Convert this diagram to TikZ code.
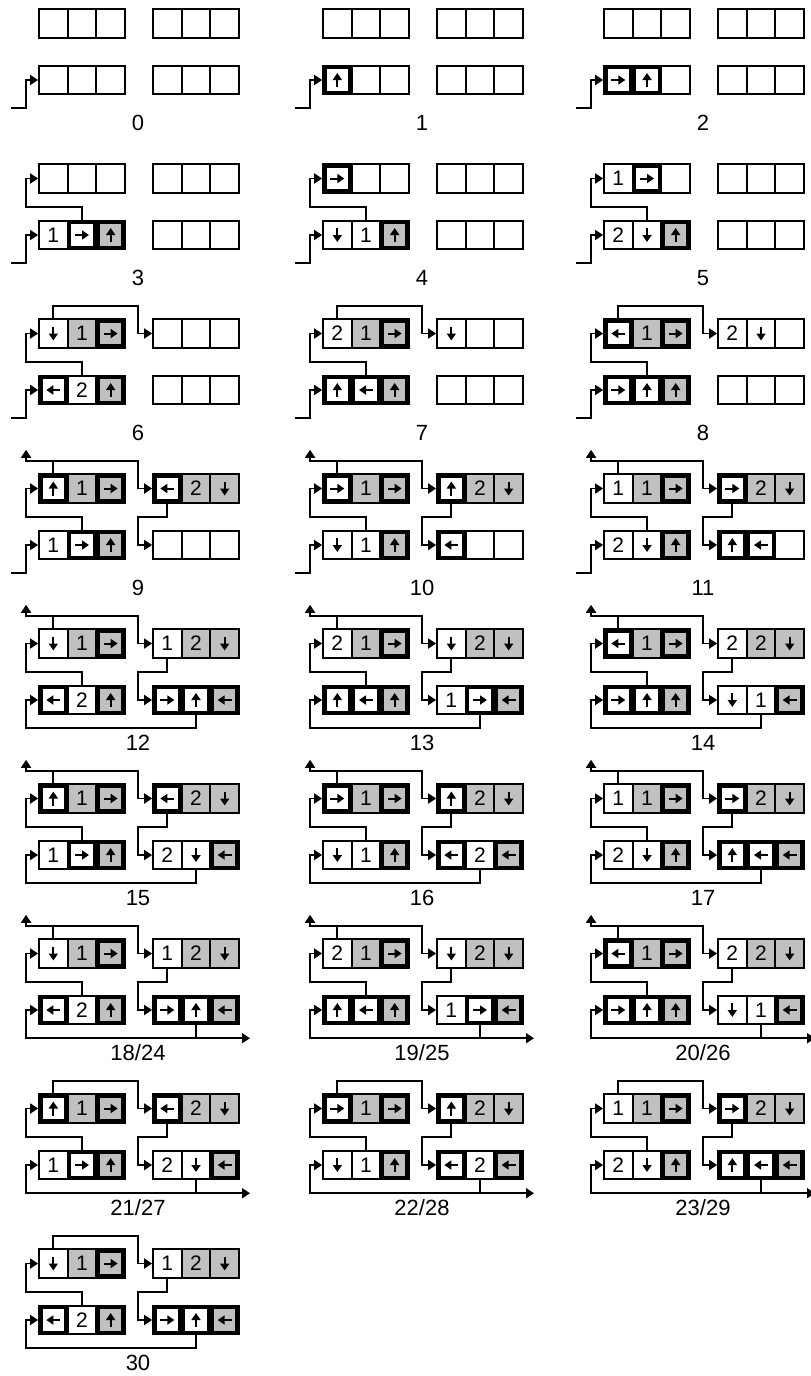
\documentclass[tikz,border=0pt]{standalone}
\usepackage{fontspec}
\setmainfont{Liberation Sans}
\usetikzlibrary{arrows.meta}
\definecolor{zellgrau}{HTML}{C0C0C0}

\tikzset{
  zelle/.style={rectangle, draw=black, line width=1.8pt, minimum size=28.67pt, inner sep=0pt,
    font=\fontsize{21}{21}\selectfont, /utils/exec={\def\ztxt{}}},
  zw/.style={zelle, fill=white},
  zg/.style={zelle, fill=zellgrau},
  zf/.style={zelle, minimum size=25.8pt, line width=4.6pt, fill=white},
  zfg/.style={zf, fill=zellgrau},
  pfeil/.style={line width=2pt, -{Triangle[length=7pt,width=9pt]}},
  i0/.style={},
  i1/.style={/utils/exec={\def\ztxt{1}}},
  i2/.style={/utils/exec={\def\ztxt{2}}},
  iR/.style={path picture={\draw[pfeil] ([xshift=-7pt]path picture bounding box.center) -- ([xshift=7pt]path picture bounding box.center);}},
  iL/.style={path picture={\draw[pfeil] ([xshift=7pt]path picture bounding box.center) -- ([xshift=-7pt]path picture bounding box.center);}},
  iU/.style={path picture={\draw[pfeil] ([yshift=-7pt]path picture bounding box.center) -- ([yshift=7pt]path picture bounding box.center);}},
  iD/.style={path picture={\draw[pfeil] ([yshift=7pt]path picture bounding box.center) -- ([yshift=-7pt]path picture bounding box.center);}},
  verb/.style={line width=1.8pt, -{Triangle[length=8pt,width=10pt]}},
  zahl/.style={font=\fontsize{22}{22}\selectfont},
}

\def\gLeer{zw/i0,zw/i0,zw/i0}

% one row of three cells
\newcommand{\zgruppe}[4]{%
  \foreach \typ/\inh [count=\i] in #4 {
    \node (#1\i) at ({#2+14.33+(\i-1)*28.67},{#3}) [\typ,\inh] {\ztxt};
  }}

% name, column, row, label, groups A B C D
\newcommand{\zpanel}[8]{%
  \pgfmathsetmacro{\zox}{{0,284,565}[#2]}%
  \pgfmathsetmacro{\zoy}{155*#3}%
  \zgruppe{#1A}{\zox+39}{\zoy+23.5}{#5}%
  \zgruppe{#1B}{\zox+153}{\zoy+23.5}{#6}%
  \zgruppe{#1C}{\zox+39}{\zoy+80}{#7}%
  \zgruppe{#1D}{\zox+153}{\zoy+80}{#8}%
  \node[zahl] (#1l) at ({\zox+138},{\zoy+123}) {#4};
}

% connectors
\newcommand{\zein}[1]{%
  \coordinate (#1s) at ([xshift=-27pt,yshift=-28pt]#1C1.west);
  \draw[verb] (#1s) -| ([xshift=-12pt]#1C1.west) -- (#1C1.west);}
\newcommand{\zca}[1]{\draw[verb] (#1C2.north) -- ++(0,-13) -| ([xshift=-12pt]#1A1.west) -- (#1A1.west);}
\newcommand{\zab}[1]{\draw[verb] (#1A1.north) -- ++(0,-12.5) -| ([xshift=-14pt]#1B1.west) -- (#1B1.west);}
\newcommand{\zaus}[1]{\draw[verb] ([yshift=12.5pt]#1A1.north) -- ++(-27.3,0) -- ++(0,-11);}
\newcommand{\zbd}[1]{\draw[verb] (#1B1.south) -- ++(0,13.5) -| ([xshift=-14pt]#1D1.west) -- (#1D1.west);}
\newcommand{\zschleife}[1]{\draw[verb] (#1D2.south) -- ++(0,13) -| ([xshift=-12pt]#1C1.west) -- (#1C1.west);}
\newcommand{\zweiter}[1]{\draw[verb] ([yshift=-13pt]#1D2.south) -- ++(54,0);}

% repeating states
\newcommand{\zustandXII}[4]{\zpanel{#1}{#2}{#3}{#4}{{zw/iD,zg/i1,zfg/iR}}{{zw/i1,zg/i2,zg/iD}}{{zf/iL,zw/i2,zfg/iU}}{{zf/iR,zf/iU,zfg/iL}}}
\newcommand{\zustandXIII}[4]{\zpanel{#1}{#2}{#3}{#4}{{zw/i2,zg/i1,zfg/iR}}{{zw/iD,zg/i2,zg/iD}}{{zf/iU,zf/iL,zfg/iU}}{{zw/i1,zf/iR,zfg/iL}}}
\newcommand{\zustandXIV}[4]{\zpanel{#1}{#2}{#3}{#4}{{zf/iL,zg/i1,zfg/iR}}{{zw/i2,zg/i2,zg/iD}}{{zf/iR,zf/iU,zfg/iU}}{{zw/iD,zw/i1,zfg/iL}}}
\newcommand{\zustandXV}[4]{\zpanel{#1}{#2}{#3}{#4}{{zf/iU,zg/i1,zfg/iR}}{{zf/iL,zg/i2,zg/iD}}{{zw/i1,zf/iR,zfg/iU}}{{zw/i2,zw/iD,zfg/iL}}}
\newcommand{\zustandXVI}[4]{\zpanel{#1}{#2}{#3}{#4}{{zf/iR,zg/i1,zfg/iR}}{{zf/iU,zg/i2,zg/iD}}{{zw/iD,zw/i1,zfg/iU}}{{zf/iL,zw/i2,zfg/iL}}}
\newcommand{\zustandXVII}[4]{\zpanel{#1}{#2}{#3}{#4}{{zw/i1,zg/i1,zfg/iR}}{{zf/iR,zg/i2,zg/iD}}{{zw/i2,zw/iD,zfg/iU}}{{zf/iU,zf/iL,zfg/iL}}}

\begin{document}
\begin{tikzpicture}[x=1pt,y=-1pt]
\useasboundingbox (0,0) rectangle (811,1376);

\zpanel{p0}{0}{0}{0}{\gLeer}{\gLeer}{\gLeer}{\gLeer}
\zein{p0}
\zpanel{p1}{1}{0}{1}{\gLeer}{\gLeer}{{zf/iU,zw/i0,zw/i0}}{\gLeer}
\zein{p1}
\zpanel{p2}{2}{0}{2}{\gLeer}{\gLeer}{{zf/iR,zf/iU,zw/i0}}{\gLeer}
\zein{p2}

\zpanel{p3}{0}{1}{3}{\gLeer}{\gLeer}{{zw/i1,zf/iR,zfg/iU}}{\gLeer}
\zein{p3} \zca{p3}
\zpanel{p4}{1}{1}{4}{{zf/iR,zw/i0,zw/i0}}{\gLeer}{{zw/iD,zw/i1,zfg/iU}}{\gLeer}
\zein{p4} \zca{p4}
\zpanel{p5}{2}{1}{5}{{zw/i1,zf/iR,zw/i0}}{\gLeer}{{zw/i2,zw/iD,zfg/iU}}{\gLeer}
\zein{p5} \zca{p5}

\zpanel{p6}{0}{2}{6}{{zw/iD,zg/i1,zfg/iR}}{\gLeer}{{zf/iL,zw/i2,zfg/iU}}{\gLeer}
\zein{p6} \zca{p6} \zab{p6}
\zpanel{p7}{1}{2}{7}{{zw/i2,zg/i1,zfg/iR}}{{zw/iD,zw/i0,zw/i0}}{{zf/iU,zf/iL,zfg/iU}}{\gLeer}
\zein{p7} \zca{p7} \zab{p7}
\zpanel{p8}{2}{2}{8}{{zf/iL,zg/i1,zfg/iR}}{{zw/i2,zw/iD,zw/i0}}{{zf/iR,zf/iU,zfg/iU}}{\gLeer}
\zein{p8} \zca{p8} \zab{p8}

\zpanel{p9}{0}{3}{9}{{zf/iU,zg/i1,zfg/iR}}{{zf/iL,zg/i2,zg/iD}}{{zw/i1,zf/iR,zfg/iU}}{\gLeer}
\zein{p9} \zca{p9} \zab{p9} \zaus{p9} \zbd{p9}
\zpanel{p10}{1}{3}{10}{{zf/iR,zg/i1,zfg/iR}}{{zf/iU,zg/i2,zg/iD}}{{zw/iD,zw/i1,zfg/iU}}{{zf/iL,zw/i0,zw/i0}}
\zein{p10} \zca{p10} \zab{p10} \zaus{p10} \zbd{p10}
\zpanel{p11}{2}{3}{11}{{zw/i1,zg/i1,zfg/iR}}{{zf/iR,zg/i2,zg/iD}}{{zw/i2,zw/iD,zfg/iU}}{{zf/iU,zf/iL,zw/i0}}
\zein{p11} \zca{p11} \zab{p11} \zaus{p11} \zbd{p11}

\zustandXII{p12}{0}{4}{12}
\zca{p12} \zab{p12} \zaus{p12} \zbd{p12} \zschleife{p12}
\zustandXIII{p13}{1}{4}{13}
\zca{p13} \zab{p13} \zaus{p13} \zbd{p13} \zschleife{p13}
\zustandXIV{p14}{2}{4}{14}
\zca{p14} \zab{p14} \zaus{p14} \zbd{p14} \zschleife{p14}

\zustandXV{p15}{0}{5}{15}
\zca{p15} \zab{p15} \zaus{p15} \zbd{p15} \zschleife{p15}
\zustandXVI{p16}{1}{5}{16}
\zca{p16} \zab{p16} \zaus{p16} \zbd{p16} \zschleife{p16}
\zustandXVII{p17}{2}{5}{17}
\zca{p17} \zab{p17} \zaus{p17} \zbd{p17} \zschleife{p17}

\zustandXII{p18}{0}{6}{18/24}
\zca{p18} \zab{p18} \zaus{p18} \zbd{p18} \zschleife{p18} \zweiter{p18}
\zustandXIII{p19}{1}{6}{19/25}
\zca{p19} \zab{p19} \zaus{p19} \zbd{p19} \zschleife{p19} \zweiter{p19}
\zustandXIV{p20}{2}{6}{20/26}
\zca{p20} \zab{p20} \zaus{p20} \zbd{p20} \zschleife{p20} \zweiter{p20}

\zustandXV{p21}{0}{7}{21/27}
\zca{p21} \zab{p21} \zbd{p21} \zschleife{p21} \zweiter{p21}
\zustandXVI{p22}{1}{7}{22/28}
\zca{p22} \zab{p22} \zbd{p22} \zschleife{p22} \zweiter{p22}
\zustandXVII{p23}{2}{7}{23/29}
\zca{p23} \zab{p23} \zbd{p23} \zschleife{p23} \zweiter{p23}

\zustandXII{p30}{0}{8}{30}
\zca{p30} \zab{p30} \zbd{p30} \zschleife{p30}
\end{tikzpicture}
\end{document}
